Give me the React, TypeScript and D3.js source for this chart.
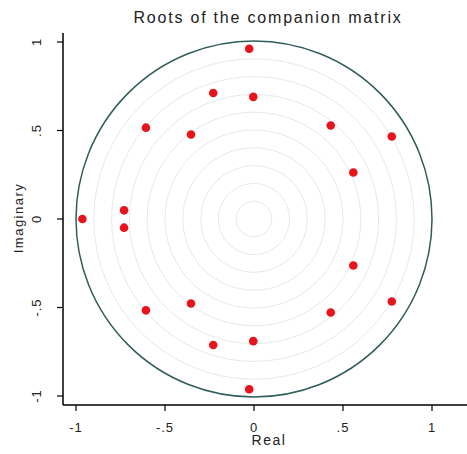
import React from 'react';
import { scaleLinear } from 'd3';

const realParts = [-0.027, -0.027, -0.229, -0.229, -0.004, -0.004, -0.607, -0.607, -0.354, -0.354, 0.431, 0.431, 0.774, 0.774, 0.558, 0.558, -0.73, -0.73, -0.964];
const imagParts = [0.962, -0.962, 0.712, -0.712, 0.69, -0.69, 0.516, -0.516, 0.477, -0.477, 0.528, -0.528, 0.466, -0.466, 0.263, -0.263, 0.049, -0.049, 0];
const tickValues = [-1, -0.5, 0, 0.5, 1];
const tickLabels = ['-1', '-.5', '0', '.5', '1'];
const gridRadii = [0.1, 0.2, 0.3, 0.4, 0.5, 0.6, 0.7, 0.8, 0.9];

const W = 467;
const H = 454;

const App = () => {
  const x = scaleLinear().domain([-1, 1]).range([76, 432]);
  const y = scaleLinear().domain([-1, 1]).range([396, 42]);
  const axisX = 63;
  const axisY = 405;
  const font = 'Arial, "Liberation Sans", sans-serif';

  const rPix = (r: number) => x(r) - x(0);

  return (
    <svg width={W} height={H} style={{ position: 'absolute', left: 0, top: 0, background: '#fff' }}>
      <text x={268} y={23} textAnchor="middle" fontFamily={font} fontSize={16} letterSpacing={1.8} fill="#222">
        Roots of the companion matrix
      </text>

      {gridRadii.map(r => (
        <circle key={r} cx={x(0)} cy={y(0)} r={rPix(r)} fill="none" stroke="#e3eaec" strokeWidth={1} />
      ))}
      <circle cx={x(0)} cy={y(0)} r={rPix(1)} fill="none" stroke="#2f5d5a" strokeWidth={1.5} />

      {/* axes */}
      <line x1={axisX} x2={axisX} y1={33} y2={axisY} stroke="#000" strokeWidth={1.5} />
      <line x1={axisX} x2={W} y1={axisY} y2={axisY} stroke="#000" strokeWidth={1.5} />

      {tickValues.map((v, i) => (
        <g key={'x' + v}>
          <line x1={x(v)} x2={x(v)} y1={axisY} y2={axisY + 6} stroke="#000" strokeWidth={1.2} />
          <text x={x(v)} y={432} textAnchor="middle" fontFamily={font} fontSize={13} letterSpacing={1} fill="#222">
            {tickLabels[i]}
          </text>
        </g>
      ))}
      {tickValues.map((v, i) => (
        <g key={'y' + v}>
          <line x1={axisX - 6} x2={axisX} y1={y(v)} y2={y(v)} stroke="#000" strokeWidth={1.2} />
          <text
            transform={`translate(41,${y(v)}) rotate(-90)`}
            textAnchor="middle"
            fontFamily={font}
            fontSize={13}
            letterSpacing={1}
            fill="#222"
          >
            {tickLabels[i]}
          </text>
        </g>
      ))}

      <text x={269} y={445} textAnchor="middle" fontFamily={font} fontSize={14} letterSpacing={1.5} fill="#222">
        Real
      </text>
      <text transform="translate(23,218) rotate(-90)" textAnchor="middle" fontFamily={font} fontSize={13} letterSpacing={1.5} fill="#222">
        Imaginary
      </text>

      {realParts.map((re, i) => (
        <circle key={i} cx={x(re)} cy={y(imagParts[i])} r={4.3} fill="#e8141b" />
      ))}
    </svg>
  );
};

export default App;
